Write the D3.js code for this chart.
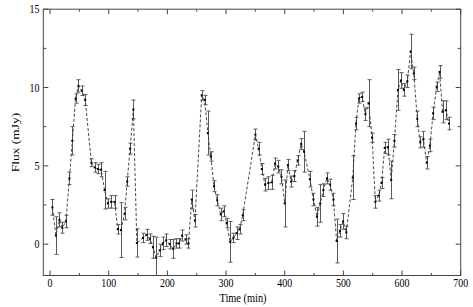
<!DOCTYPE html>
<html><head><meta charset="utf-8">
<script src="https://cdn.jsdelivr.net/npm/d3@7"></script>
<style>html,body{margin:0;padding:0;background:#fff;}svg{display:block;}</style>
</head><body>
<svg id="c" width="473" height="307"></svg>
<script>
const times = [4,10,16,21,27,33,38,43.5,48.5,54,60,
  70.5,76,81.5,87,93,98.5,104,110,115.5,121,127,131.5,136.5,142,148,
  158.5,164.5,170,175.5,181,187,192.5,198,204,210,215.5,220,225,231,236,241.5,247,
  258.5,263.5,269,274,279.5,285,291,296,301,307,312.5,318,323,328.5,
  350,355.5,361,366.5,372,378,383.5,389,394.5,400,405.5,411,416.5,422,428,433,
  443,449,455,460.5,466,472,477.5,483,488.5,494,499.5,505,
  516,521.5,526.5,532,537.5,543,549,554.5,560,565,570.5,576,581.5,587,593,598,603,609,614.5,620,626,631,636.5,642,647.5,653,659,664,669,675,680];
const flux = [2.35,0.55,1.55,1.05,1.45,4.2,6.6,9.3,10.1,9.8,9.2,
  5.2,4.9,4.8,4.75,3.45,2.6,2.7,2.7,0.95,0.9,1.95,4.0,6.1,8.6,0.08,
  0.4,0.6,0.35,-0.2,-0.85,-0.4,0.05,0.25,0.0,-0.3,0.05,0.05,0.55,0.3,0.05,2.85,1.5,
  9.5,9.2,7.1,5.6,3.7,2.8,1.9,2.1,1.35,0.15,0.4,0.7,0.95,1.85,
  7.0,6.1,4.8,3.8,3.9,3.95,5.15,4.95,4.3,2.6,5.05,4.0,4.35,5.35,6.4,5.9,
  4.15,2.85,1.75,2.6,3.45,4.2,3.8,2.85,0.2,0.85,1.45,0.75,
  4.25,7.7,9.3,9.4,8.3,9.0,6.8,2.7,3.1,3.9,6.15,6.2,4.1,6.6,9.85,10.45,9.85,10.4,12.3,10.9,8.0,6.5,6.7,5.2,6.3,8.35,10.05,11.0,8.45,8.55,7.7];
const errs = [0.5,1.2,0.45,0.35,0.4,0.4,0.9,0.3,0.4,0.3,0.35,
  0.25,0.3,0.3,0.45,1.2,0.3,0.4,0.4,0.3,1.75,0.4,0.3,0.35,0.6,0.9,
  0.3,0.35,0.3,0.7,1.3,0.4,0.4,0.4,0.3,0.6,0.3,0.3,0.35,0.3,0.3,0.6,0.4,
  0.3,0.3,1.4,0.3,0.35,0.35,0.4,0.35,0.3,1.3,0.3,0.4,0.3,0.35,
  0.35,0.4,0.35,0.4,0.4,0.45,0.35,0.4,0.45,1.5,0.35,0.35,0.35,0.3,0.35,1.3,
  0.5,0.4,0.6,1.2,0.4,0.35,0.35,0.4,1.4,0.4,0.5,0.4,
  1.4,0.4,0.3,0.3,0.4,1.5,0.3,0.4,0.35,0.35,0.35,0.5,1.2,0.4,1.3,0.5,0.4,0.4,1.1,0.4,0.5,0.35,0.5,0.4,0.4,0.4,0.3,0.4,0.7,0.6,0.4];
const xTicks = [0,100,200,300,400,500,600,700];
const yTicks = [0,5,10,15];
const xLabel = "Time (min)";
const yLabel = "Flux (mJy)";

const data = times.map((t,i)=>({t, f:flux[i], e:errs[i]}));
const L=43.3, R=460.7, T=9.2, B=275.5;
const x = d3.scaleLinear().domain([-11.5,700]).range([L,R]);
const y = d3.scaleLinear().domain([-2,15]).range([B,T]);
const svg = d3.select("#c");
const font = "'Liberation Serif','Times New Roman',serif";
const SQ = 0.83;

// error bars
const eb = svg.append("g").attr("stroke","#5a5a5a").attr("stroke-width",1).attr("fill","none");
data.forEach(d=>{
  const cx = Math.round(x(d.t))+0.5;
  const y1 = y(d.f+d.e), y2 = y(Math.max(d.f-d.e,-2));
  eb.append("line").attr("x1",cx).attr("x2",cx).attr("y1",y1).attr("y2",y2);
  eb.append("line").attr("x1",cx-2).attr("x2",cx+2).attr("y1",y1).attr("y2",y1);
  if (d.f-d.e > -2) eb.append("line").attr("x1",cx-2).attr("x2",cx+2).attr("y1",y2).attr("y2",y2);
});
// dashed line
svg.append("path").datum(data)
  .attr("d", d3.line().x(d=>x(d.t)).y(d=>y(d.f)))
  .attr("fill","none").attr("stroke","#333").attr("stroke-width",0.9).attr("stroke-dasharray","3,2");
// points
svg.append("g").selectAll("rect").data(data).join("rect")
  .attr("x",d=>x(d.t)-1).attr("y",d=>y(d.f)-1).attr("width",2).attr("height",2).attr("fill","#000");

// frame
svg.append("rect").attr("x",L).attr("y",T).attr("width",R-L).attr("height",B-T)
  .attr("fill","none").attr("stroke","#444").attr("stroke-width",1);

// ticks
const tg = svg.append("g").attr("stroke","#444").attr("stroke-width",1);
const xMinor = d3.range(50,700,100);
xTicks.forEach(v=>{ const px=x(v);
  tg.append("line").attr("x1",px).attr("x2",px).attr("y1",B).attr("y2",B-5);
  tg.append("line").attr("x1",px).attr("x2",px).attr("y1",T).attr("y2",T+5);});
xMinor.forEach(v=>{ const px=x(v);
  tg.append("line").attr("x1",px).attr("x2",px).attr("y1",B).attr("y2",B-2.5);
  tg.append("line").attr("x1",px).attr("x2",px).attr("y1",T).attr("y2",T+2.5);});
const yMinor = [2.5,7.5,12.5];
yTicks.forEach(v=>{ const py=y(v);
  tg.append("line").attr("x1",L).attr("x2",L+5).attr("y1",py).attr("y2",py);
  tg.append("line").attr("x1",R).attr("x2",R-5).attr("y1",py).attr("y2",py);});
yMinor.forEach(v=>{ const py=y(v);
  tg.append("line").attr("x1",L).attr("x2",L+3).attr("y1",py).attr("y2",py);
  tg.append("line").attr("x1",R).attr("x2",R-3).attr("y1",py).attr("y2",py);});

// tick labels
svg.append("g").selectAll("text").data(xTicks).join("text")
  .attr("transform",d=>`translate(${x(d)},287) scale(${SQ},1)`)
  .attr("text-anchor","middle").attr("font-family",font).attr("font-size",12).attr("fill","#000")
  .text(d=>d);
svg.append("g").selectAll("text").data(yTicks).join("text")
  .attr("transform",d=>`translate(39.5,${y(d)+4.2}) scale(${SQ},1)`)
  .attr("text-anchor","end").attr("font-family",font).attr("font-size",12).attr("fill","#000")
  .text(d=>d);
// axis labels
svg.append("text").attr("transform",`translate(243,302) scale(${SQ},1)`)
  .attr("text-anchor","middle").attr("font-family",font).attr("font-size",12.5).attr("fill","#000").text(xLabel);
svg.append("text").attr("transform",`translate(19,142.5) scale(${SQ},1) rotate(-90)`)
  .attr("text-anchor","middle").attr("font-family",font).attr("font-size",13.5).attr("fill","#000").text(yLabel);
</script>
</body></html>
